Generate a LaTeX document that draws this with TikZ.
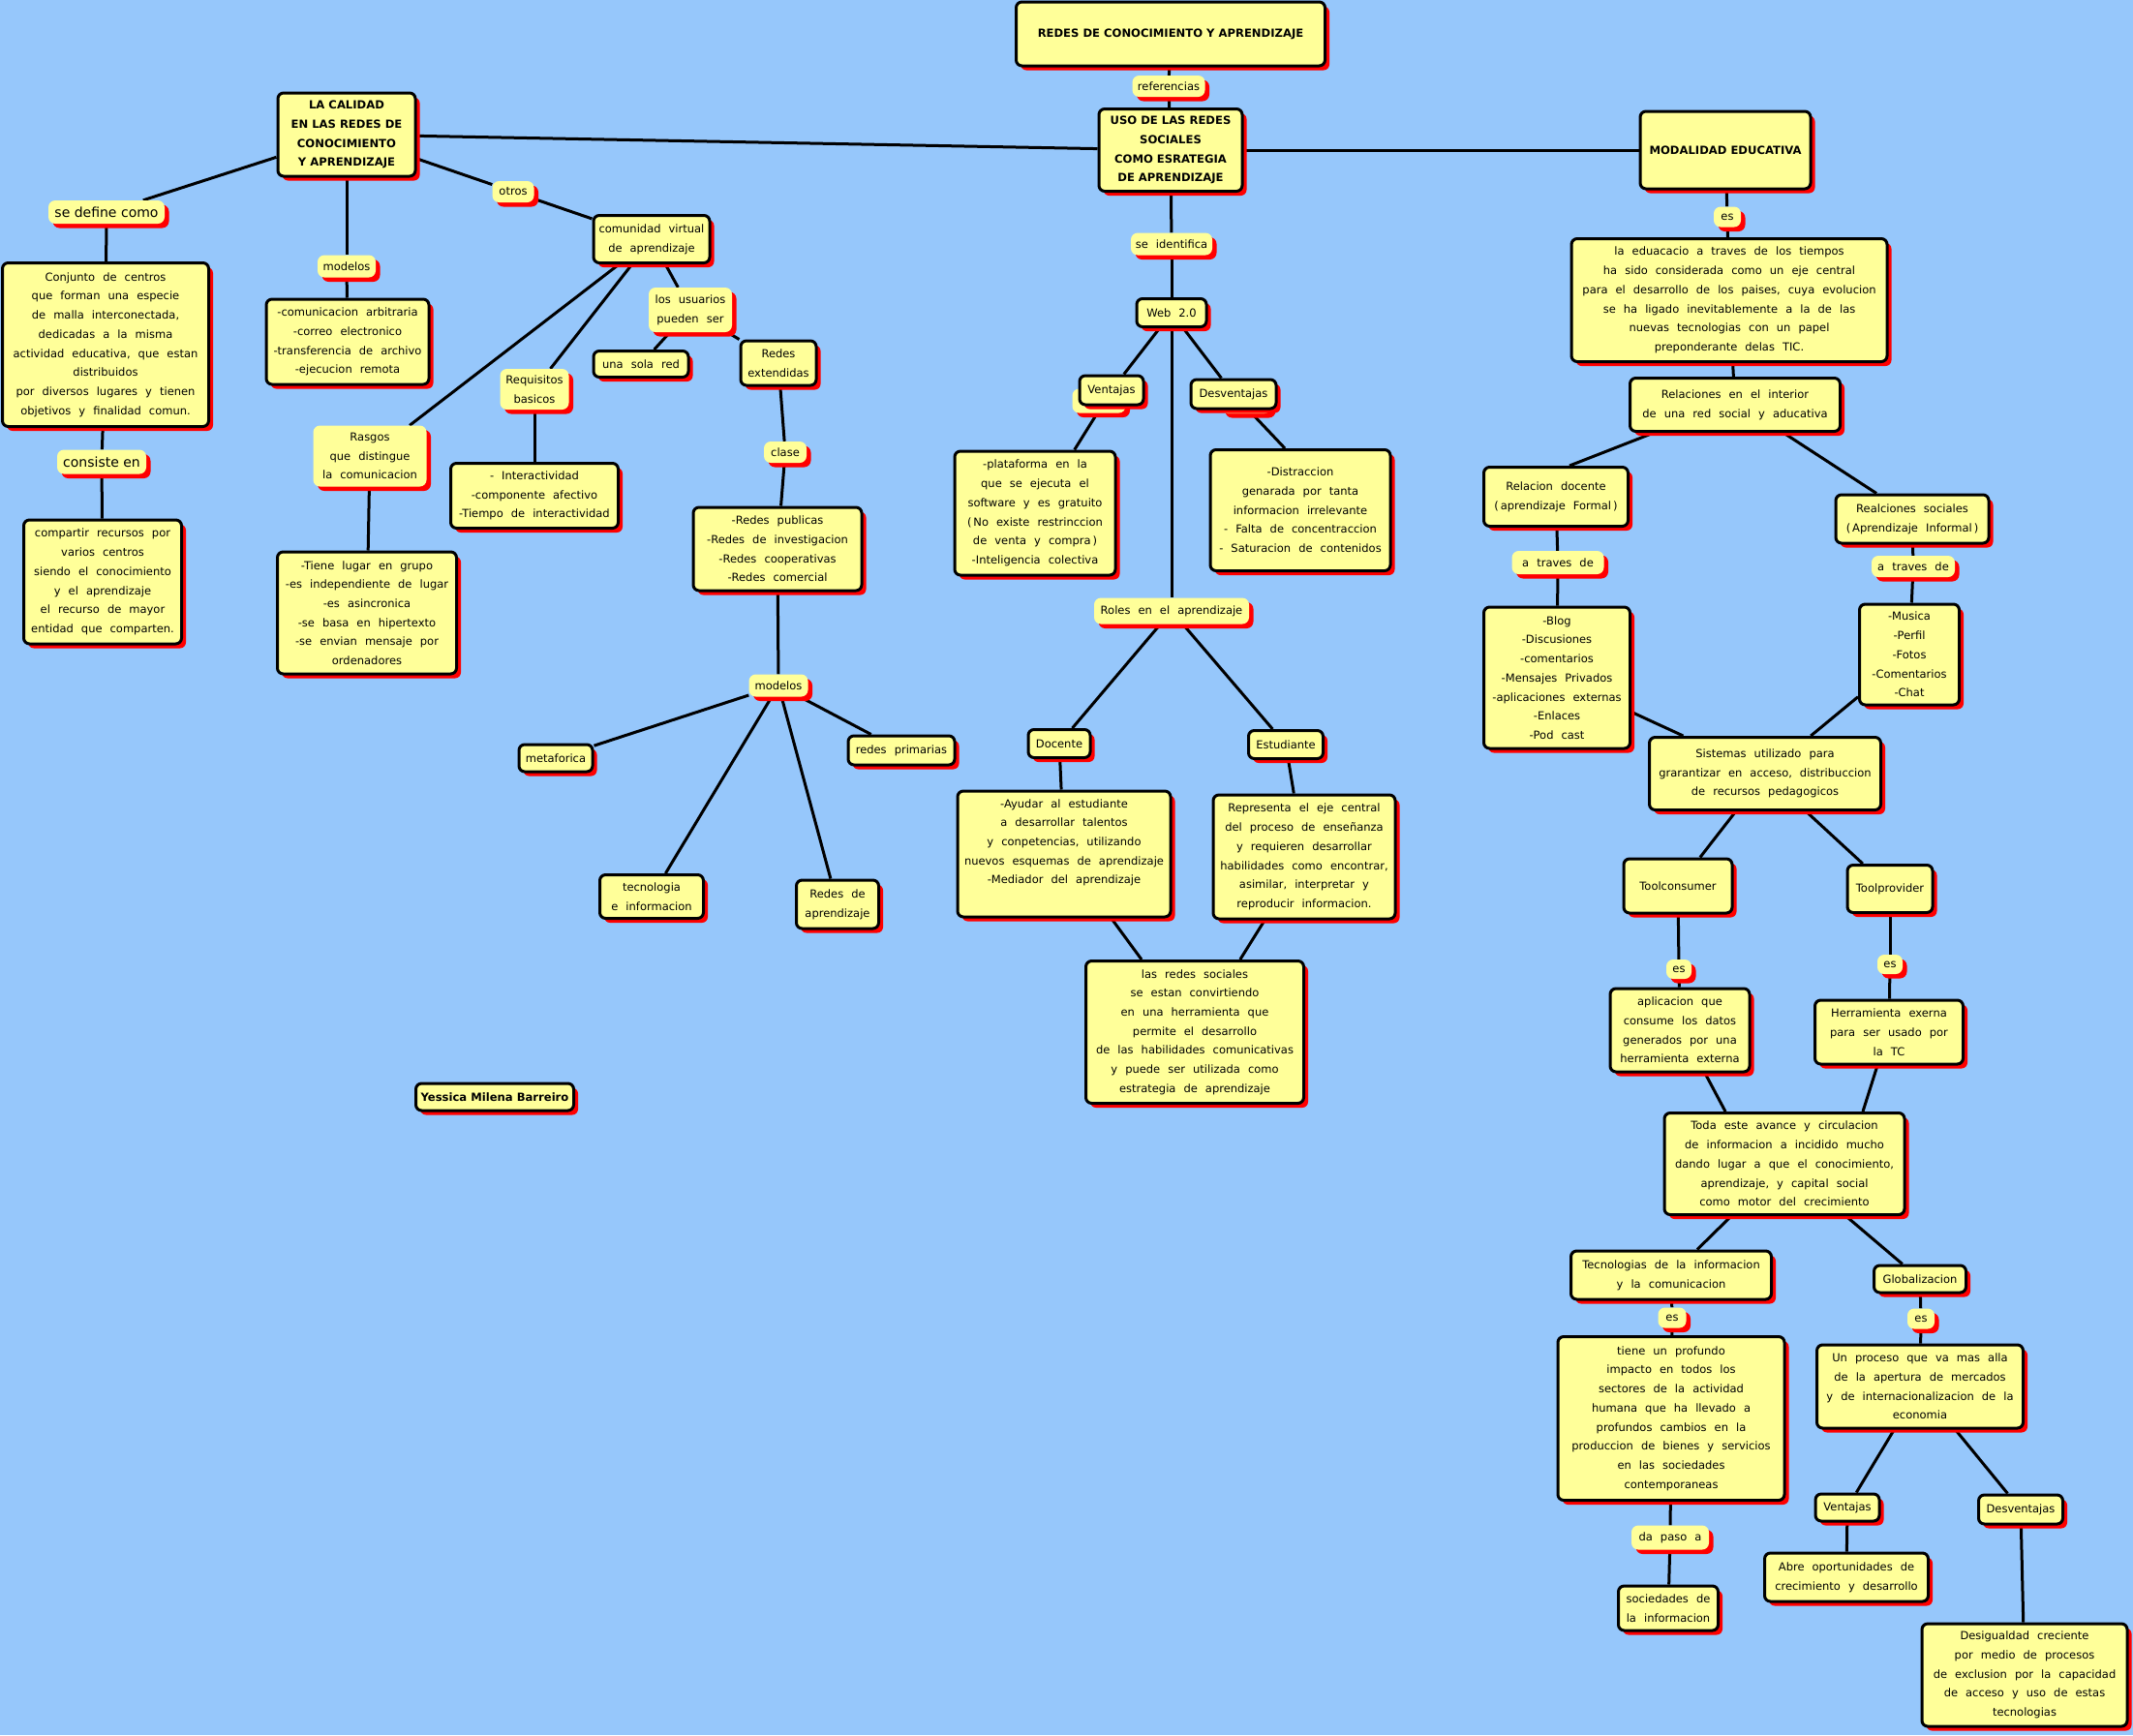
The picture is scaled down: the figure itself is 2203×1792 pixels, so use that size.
\documentclass[tikz,border=0pt]{standalone}
\usepackage{fontspec}
\setmainfont{DejaVu Sans}[WordSpace=2.2]
\newfontfamily\plainfont{DejaVu Sans}
\usetikzlibrary{shadows,backgrounds}
\definecolor{mapblue}{RGB}{150,199,251}
\definecolor{mapyellow}{RGB}{255,255,153}
\newcommand{\boxfont}{\fontsize{11.5}{19.7}\selectfont}
\newcommand{\headfont}{\plainfont\bfseries\fontsize{11.6}{19.7}\selectfont}
\newcommand{\bigfont}{\plainfont\fontsize{14}{18}\selectfont}
\tikzset{
  redshadow/.style={drop shadow={fill=red,opacity=1,shadow xshift=4.5pt,shadow yshift=-4.5pt}},
  concept/.style={draw=black,line width=3pt,rounded corners=6pt,fill=mapyellow,align=center,inner sep=1pt,redshadow,font=\boxfont},
  headbox/.style={concept,font=\headfont},
  linkphrase/.style={fill=mapyellow,rounded corners=7pt,align=center,inner sep=1pt,redshadow,font=\boxfont},
  boxsize/.style 2 args={minimum width=#1pt,minimum height=#2pt},
  mapline/.style={line width=3pt,black}
}
\begin{document}
\begin{tikzpicture}[x=1pt,y=-1pt]
        \useasboundingbox (0,0) rectangle (2203,1792);

        % centro
        \node[headbox, boxsize={319}{66}] (title) at (1209,35) {REDES DE CONOCIMIENTO Y APRENDIZAJE};
        \node[linkphrase, boxsize={75}{22}] (refer) at (1207,89) {referencias};
        \node[headbox, boxsize={148}{85}] (uso) at (1209,155) {USO DE LAS REDES\\SOCIALES\\COMO ESRATEGIA\\DE APRENDIZAJE};
        \node[headbox, boxsize={176}{80}] (modal) at (1782,155) {MODALIDAD EDUCATIVA};
        \node[linkphrase, boxsize={84}{23}] (seident) at (1210,252) {se identifica};
        \node[concept, boxsize={72}{29}] (web) at (1210,323) {Web 2.0};
        \node[linkphrase, boxsize={55}{25}] (ventwb) at (1135,414) {};
        \node[linkphrase, boxsize={52}{22}] (desvwb) at (1287,416) {};
        \node[concept, boxsize={66}{30}] (ventw) at (1148,403) {Ventajas};
        \node[concept, boxsize={88}{30}] (desvw) at (1274,407) {Desventajas};
        \node[concept, boxsize={166}{128}] (plataf) at (1069,530) {-plataforma en la\\que se ejecuta el\\software y es gratuito\\(\,No existe restrinccion\\de venta y compra\,)\\-Inteligencia colectiva};
        \node[concept, boxsize={186}{125}] (distr) at (1343,527) {-Distraccion\\genarada por tanta\\informacion irrelevante\\- Falta de concentraccion\\- Saturacion de contenidos};
        \node[linkphrase, boxsize={160}{27}] (roles) at (1210,631) {Roles en el aprendizaje};
        \node[concept, boxsize={64}{29}] (docente) at (1094,768) {Docente};
        \node[concept, boxsize={77}{29}] (estud) at (1328,769) {Estudiante};
        \node[concept, boxsize={220}{130}] (ayudar) at (1099,882) {-Ayudar al estudiante\\a desarrollar talentos\\y conpetencias, utilizando\\nuevos esquemas de aprendizaje\\-Mediador del aprendizaje\\\strut};
        \node[concept, boxsize={188}{128}] (repres) at (1347,885) {Representa el eje central\\del proceso de enseñanza\\y requieren desarrollar\\habilidades como encontrar,\\asimilar, interpretar y\\reproducir informacion.};
        \node[concept, boxsize={225}{147}] (redsoc) at (1234,1066) {las redes sociales\\se estan convirtiendo\\en una herramienta que\\permite el desarrollo\\de las habilidades comunicativas\\y puede ser utilizada como\\estrategia de aprendizaje};

        % izquierda
        \node[headbox, boxsize={142}{86}] (calidad) at (358,139) {LA CALIDAD\\EN LAS REDES DE\\CONOCIMIENTO\\Y APRENDIZAJE};
        \node[linkphrase, boxsize={120}{24}, font=\bigfont] (sedef) at (110,219) {se define como};
        \node[concept, boxsize={213}{169}] (conjunto) at (109,356) {Conjunto de centros\\que forman una especie\\de malla interconectada,\\dedicadas a la misma\\actividad educativa, que estan\\distribuidos\\por diversos lugares y tienen\\objetivos y finalidad comun.};
        \node[linkphrase, boxsize={92}{25}, font=\bigfont] (consiste) at (105,477) {consiste en};
        \node[concept, boxsize={163}{128}] (compartir) at (106,601) {compartir recursos por\\varios centros\\siendo el conocimiento\\y el aprendizaje\\el recurso de mayor\\entidad que comparten.};
        \node[linkphrase, boxsize={60}{23}] (modelosa) at (358,275) {modelos};
        \node[concept, boxsize={168}{88}] (comunic) at (359,353) {-comunicacion arbitraria\\-correo electronico\\-transferencia de archivo\\-ejecucion remota};
        \node[linkphrase, boxsize={43}{22}] (otros) at (530,198) {otros};
        \node[concept, boxsize={120}{49}] (comvirt) at (673,247) {comunidad virtual\\de aprendizaje};
        \node[linkphrase, boxsize={117}{63}] (rasgos) at (382,471) {Rasgos\\que distingue\\la comunicacion};
        \node[linkphrase, boxsize={71}{42}] (requis) at (552,402) {Requisitos\\basicos};
        \node[concept, boxsize={98}{27}] (solared) at (662,376) {una sola red};
        \node[linkphrase, boxsize={86}{46}] (usuarios) at (713,320) {los usuarios\\pueden ser};
        \node[concept, boxsize={78}{46}] (redext) at (804,375) {Redes\\extendidas};
        \node[concept, boxsize={173}{67}] (interact) at (552,512) {- Interactividad\\-componente afectivo\\-Tiempo de interactividad};
        \node[concept, boxsize={185}{126}] (tiene) at (379,633) {-Tiene lugar en grupo\\-es independiente de lugar\\-es asincronica\\-se basa en hipertexto\\-se envian mensaje por\\ordenadores};
        \node[linkphrase, boxsize={44}{22}] (clase) at (811,467) {clase};
        \node[concept, boxsize={174}{86}] (redpub) at (803,567) {-Redes publicas\\-Redes de investigacion\\-Redes cooperativas\\-Redes comercial};
        \node[linkphrase, boxsize={61}{23}] (modelosb) at (804,708) {modelos};
        \node[concept, boxsize={76}{28}] (metaf) at (574,783) {metaforica};
        \node[concept, boxsize={110}{30}] (redprim) at (931,775) {redes primarias};
        \node[concept, boxsize={107}{45}] (tecinf) at (673,926) {tecnologia\\e informacion};
        \node[concept, boxsize={85}{50}] (redapr) at (865,934) {Redes de\\aprendizaje};
        \node[headbox, boxsize={163}{28}] (autor) at (511,1133) {Yessica Milena Barreiro};

        % derecha
        \node[linkphrase, boxsize={28}{21}] (esa) at (1784,224) {es};
        \node[concept, boxsize={326}{127}] (eduac) at (1786,310) {la eduacacio a traves de los tiempos\\ha sido considerada como un eje central\\para el desarrollo de los paises, cuya evolucion\\se ha ligado inevitablemente a la de las\\nuevas tecnologias con un papel\\preponderante delas TIC.};
        \node[concept, boxsize={217}{55}] (relint) at (1792,418) {Relaciones en el interior\\de una red social y aducativa};
        \node[concept, boxsize={149}{61}] (reldoc) at (1607,513) {Relacion docente\\(\,aprendizaje Formal\,)};
        \node[concept, boxsize={158}{50}] (relsoc) at (1975,536) {Realciones sociales\\(\,Aprendizaje Informal\,)};
        \node[linkphrase, boxsize={95}{24}] (travesa) at (1609,581) {a traves de};
        \node[linkphrase, boxsize={86}{22}] (travesb) at (1976,585) {a traves de};
        \node[concept, boxsize={151}{146}] (blog) at (1608,700) {-Blog\\-Discusiones\\-comentarios\\-Mensajes Privados\\-aplicaciones externas\\-Enlaces\\-Pod cast};
        \node[concept, boxsize={103}{104}] (musica) at (1972,676) {-Musica\\-Perfil\\-Fotos\\-Comentarios\\-Chat};
        \node[concept, boxsize={239}{75}] (sistemas) at (1823,799) {Sistemas utilizado para\\grarantizar en acceso, distribuccion\\de recursos pedagogicos};
        \node[concept, boxsize={112}{56}] (tcons) at (1733,915) {Toolconsumer};
        \node[concept, boxsize={88}{49}] (tprov) at (1952,918) {Toolprovider};
        \node[linkphrase, boxsize={26}{20}] (esb) at (1734,1001) {es};
        \node[linkphrase, boxsize={26}{20}] (esc) at (1952,996) {es};
        \node[concept, boxsize={144}{86}] (aplic) at (1735,1064) {aplicacion que\\consume los datos\\generados por una\\herramienta externa};
        \node[concept, boxsize={153}{66}] (herram) at (1951,1066) {Herramienta exerna\\para ser usado por\\la TC};
        \node[concept, boxsize={248}{105}] (toda) at (1843,1202) {Toda este avance y circulacion\\de informacion a incidido mucho\\dando lugar a que el conocimiento,\\aprendizaje, y capital social\\como motor del crecimiento};
        \node[concept, boxsize={207}{50}] (tic) at (1726,1317) {Tecnologias de la informacion\\y la comunicacion};
        \node[concept, boxsize={95}{28}] (glob) at (1983,1321) {Globalizacion};
        \node[linkphrase, boxsize={29}{21}] (esd) at (1727,1361) {es};
        \node[linkphrase, boxsize={28}{21}] (ese) at (1984,1362) {es};
        \node[concept, boxsize={234}{169}] (impacto) at (1726,1465) {tiene un profundo\\impacto en todos los\\sectores de la actividad\\humana que ha llevado a\\profundos cambios en la\\produccion de bienes y servicios\\en las sociedades\\contemporaneas};
        \node[concept, boxsize={213}{86}] (proceso) at (1983,1432) {Un proceso que va mas alla\\de la apertura de mercados\\y de internacionalizacion de la\\economia};
        \node[concept, boxsize={66}{28}] (ventg) at (1908,1557) {Ventajas};
        \node[concept, boxsize={87}{30}] (desvg) at (2087,1559) {Desventajas};
        \node[linkphrase, boxsize={80}{25}] (dapaso) at (1725,1588) {da paso a};
        \node[concept, boxsize={169}{50}] (abre) at (1907,1629) {Abre oportunidades de\\crecimiento y desarrollo};
        \node[concept, boxsize={103}{46}] (socinf) at (1723,1661) {sociedades de\\la informacion};
        \node[concept, boxsize={212}{106}] (desig) at (2091,1730) {Desigualdad creciente\\por medio de procesos\\de exclusion por la capacidad\\de acceso y uso de estas\\tecnologias};

        \begin{scope}[on background layer]
        \fill[mapblue] (0,0) rectangle (2203,1792);
        % centro
        \draw[mapline] (title) -- (refer);
        \draw[mapline] (refer) -- (uso);
        \draw[mapline] (calidad) -- (uso);
        \draw[mapline] (uso) -- (modal);
        \draw[mapline] (uso) -- (seident);
        \draw[mapline] (seident) -- (web);
        \draw[mapline] (web) -- (ventw);
        \draw[mapline] (ventw) -- (plataf);
        \draw[mapline] (web) -- (desvw);
        \draw[mapline] (desvw) -- ([xshift=-16pt]distr.north);
        \draw[mapline] (web) -- (roles);
        \draw[mapline] (roles) -- (docente);
        \draw[mapline] (roles) -- (estud);
        \draw[mapline] (docente) -- (ayudar);
        \draw[mapline] (estud) -- (repres);
        \draw[mapline] (ayudar) -- (redsoc);
        \draw[mapline] (repres) -- (redsoc);
        % izquierda
        \draw[mapline] (calidad) -- (sedef);
        \draw[mapline] (sedef) -- (conjunto);
        \draw[mapline] (conjunto) -- (consiste);
        \draw[mapline] (consiste) -- (compartir);
        \draw[mapline] (calidad) -- (modelosa);
        \draw[mapline] (modelosa) -- (comunic);
        \draw[mapline] (calidad) -- (otros);
        \draw[mapline] (otros) -- (comvirt);
        \draw[mapline] (comvirt) -- (rasgos);
        \draw[mapline] (rasgos) -- (tiene);
        \draw[mapline] (comvirt) -- (requis);
        \draw[mapline] (requis) -- (interact);
        \draw[mapline] (comvirt) -- (usuarios);
        \draw[mapline] (usuarios) -- (solared);
        \draw[mapline] (usuarios) -- (redext);
        \draw[mapline] (redext) -- (clase);
        \draw[mapline] (clase) -- (redpub);
        \draw[mapline] (redpub) -- (modelosb);
        \draw[mapline] (modelosb) -- (metaf);
        \draw[mapline] (modelosb) -- (redprim);
        \draw[mapline] (modelosb) -- (tecinf);
        \draw[mapline] (modelosb) -- (redapr);
        % derecha
        \draw[mapline] (modal) -- (esa);
        \draw[mapline] (esa) -- (eduac);
        \draw[mapline] (eduac) -- (relint);
        \draw[mapline] ([xshift=-84pt]relint.south) -- ([xshift=14pt]reldoc.north);
        \draw[mapline] ([xshift=50pt]relint.south) -- ([xshift=-37pt]relsoc.north);
        \draw[mapline] (reldoc) -- (travesa);
        \draw[mapline] (travesa) -- (blog);
        \draw[mapline] (relsoc) -- (travesb);
        \draw[mapline] (travesb) -- (musica);
        \draw[mapline] (blog) -- (sistemas);
        \draw[mapline] (musica) -- (sistemas);
        \draw[mapline] (sistemas) -- (tcons);
        \draw[mapline] (sistemas) -- (tprov);
        \draw[mapline] (tcons) -- (esb);
        \draw[mapline] (esb) -- (aplic);
        \draw[mapline] (tprov) -- (esc);
        \draw[mapline] (esc) -- (herram);
        \draw[mapline] ([xshift=26pt]aplic.south) -- ([xshift=-61pt]toda.north);
        \draw[mapline] ([xshift=-12pt]herram.south) -- ([xshift=81pt]toda.north);
        \draw[mapline] (toda) -- (tic);
        \draw[mapline] (toda) -- (glob);
        \draw[mapline] (tic) -- (esd);
        \draw[mapline] (esd) -- (impacto);
        \draw[mapline] (impacto) -- (dapaso);
        \draw[mapline] (dapaso) -- (socinf);
        \draw[mapline] (glob) -- (ese);
        \draw[mapline] (ese) -- (proceso);
        \draw[mapline] (proceso) -- (ventg);
        \draw[mapline] (proceso) -- (desvg);
        \draw[mapline] (ventg) -- (abre);
        \draw[mapline] (desvg) -- (desig);
        \end{scope}
\end{tikzpicture}
\end{document}
